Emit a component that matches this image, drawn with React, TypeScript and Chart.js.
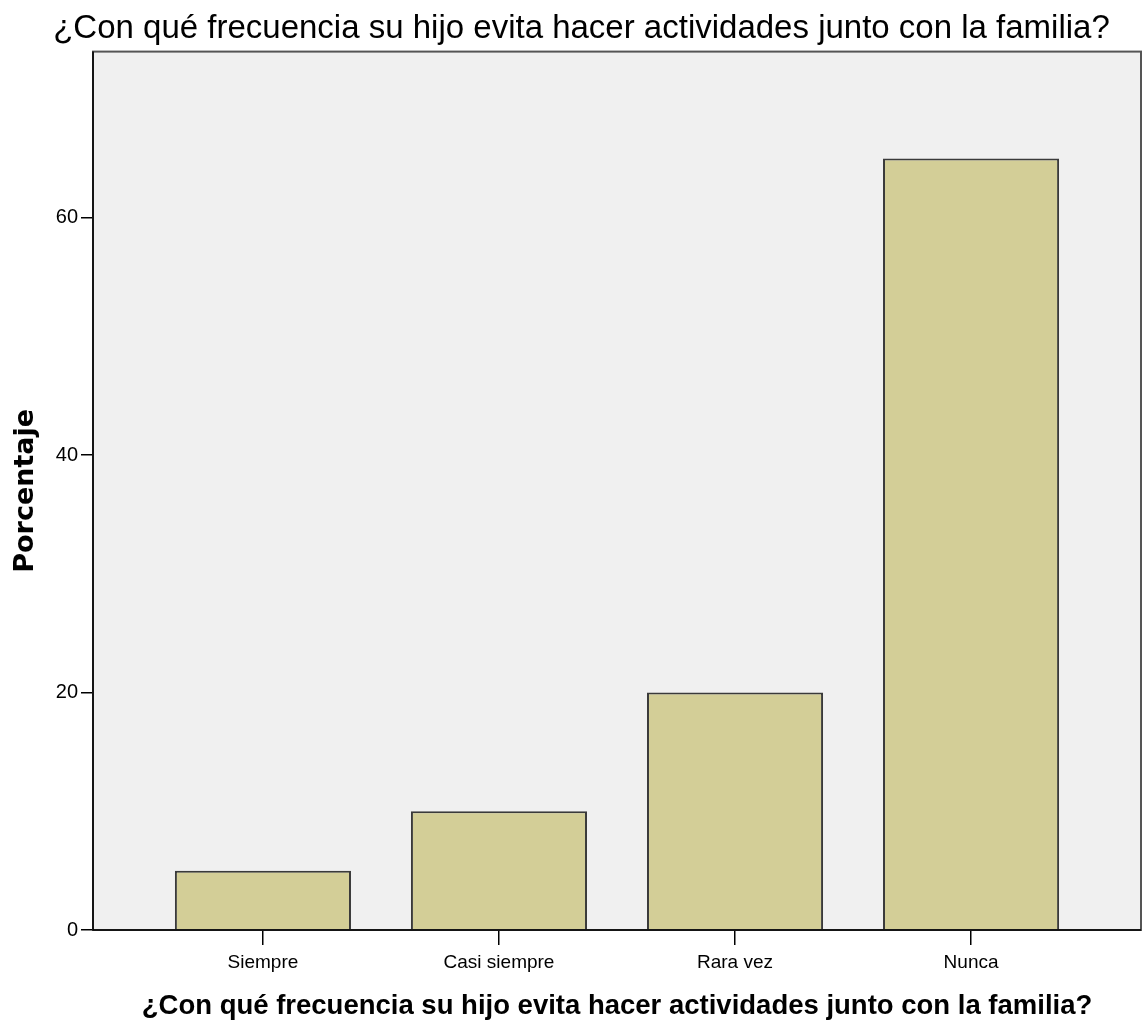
import React, { useEffect, useRef } from "react";
import { Chart, registerables } from "chart.js";

Chart.register(...registerables);

const TITLE = "¿Con qué frecuencia su hijo evita hacer actividades junto con la familia?";
const CATEGORIES = ["Siempre", "Casi siempre", "Rara vez", "Nunca"];
const PERCENTS = [5, 10, 20, 65];
const Y_TICKS = [0, 20, 40, 60];

const plotFrame = {
  id: "plotFrame",
  beforeDraw(chart: any) {
    const { ctx, chartArea } = chart;
    ctx.save();
    ctx.fillStyle = "#f0f0f0";
    ctx.fillRect(chartArea.left, chartArea.top, chartArea.right - chartArea.left, chartArea.bottom - chartArea.top);
    ctx.restore();
  },
  afterDraw(chart: any) {
    const { ctx, chartArea } = chart;
    ctx.save();
    ctx.strokeStyle = "#555555";
    ctx.lineWidth = 2;
    ctx.strokeRect(chartArea.left, chartArea.top, chartArea.right - chartArea.left, chartArea.bottom - chartArea.top);
    ctx.strokeStyle = "#000000";
    ctx.lineWidth = 1.5;
    ctx.beginPath();
    ctx.moveTo(chartArea.left, chartArea.top);
    ctx.lineTo(chartArea.left, chartArea.bottom);
    ctx.lineTo(chartArea.right, chartArea.bottom);
    ctx.stroke();
    ctx.restore();
  },
};

export default function App() {
  const ref = useRef<HTMLCanvasElement>(null);
  useEffect(() => {
    document.body.style.margin = "0";
    const chart = new Chart(ref.current as HTMLCanvasElement, {
      type: "bar",
      data: {
        datasets: [
          {
            data: CATEGORIES.map((_, i) => ({ x: i, y: PERCENTS[i] })),
            backgroundColor: "#d3ce97",
            borderColor: "#3a3a3a",
            borderWidth: 2,
            barPercentage: 0.746,
            categoryPercentage: 1,
          },
        ],
      },
      options: {
        animation: false,
        responsive: false,
        layout: { padding: { left: 22, right: 4, top: 0, bottom: 0 } },
        plugins: {
          legend: { display: false },
          tooltip: { enabled: false },
          title: {
            display: true,
            text: TITLE,
            color: "#000",
            font: { family: "'Liberation Sans', Arial, sans-serif", size: 33, weight: "normal" },
            padding: { top: 9, bottom: 3 },
          },
        },
        scales: {
          x: {
            type: "linear",
            offset: false,
            min: -0.72,
            max: 3.72,
            afterBuildTicks: (scale: any) => {
              scale.ticks = CATEGORIES.map((_, i) => ({ value: i }));
            },
            afterFit: (scale: any) => {
              scale.height = 99;
            },
            ticks: {
              autoSkip: false,
              maxRotation: 0,
              color: "#000",
              font: { family: "'Liberation Sans', Arial, sans-serif", size: 19 },
              padding: 6,
              callback: (v: any) => CATEGORIES[v] ?? "",
            },
            grid: { display: true, offset: false, drawOnChartArea: false, drawTicks: true, tickLength: 15, color: "#000", lineWidth: 1.5 },
            border: { display: true, color: "#000", width: 1.5 },
            title: {
              display: true,
              text: TITLE,
              color: "#000",
              font: { family: "'Liberation Sans', Arial, sans-serif", size: 27.5, weight: "bold" },
              padding: { top: 0, bottom: 6 },
            },
          },
          y: {
            min: 0,
            max: 74,
            afterBuildTicks: (scale: any) => {
              scale.ticks = Y_TICKS.map((v) => ({ value: v }));
            },
            afterFit: (scale: any) => {
              scale.width = 71;
            },
            ticks: {
              color: "#000",
              font: { family: "'Liberation Sans', Arial, sans-serif", size: 20 },
              padding: 3,
            },
            grid: { display: true, drawOnChartArea: false, drawTicks: true, tickLength: 12, color: "#000", lineWidth: 1.5 },
            border: { display: true, color: "#000", width: 1.5 },
            title: {
              display: true,
              text: "Porcentaje",
              color: "#000",
              font: { family: "'DejaVu Sans', sans-serif", size: 27, weight: "bold" },
              padding: { top: -12, bottom: 0 },
            },
          },
        },
      },
      plugins: [plotFrame],
    } as any);
    return () => chart.destroy();
  }, []);
  return <canvas ref={ref} width={1145} height={1029} style={{ display: "block" }} />;
}
